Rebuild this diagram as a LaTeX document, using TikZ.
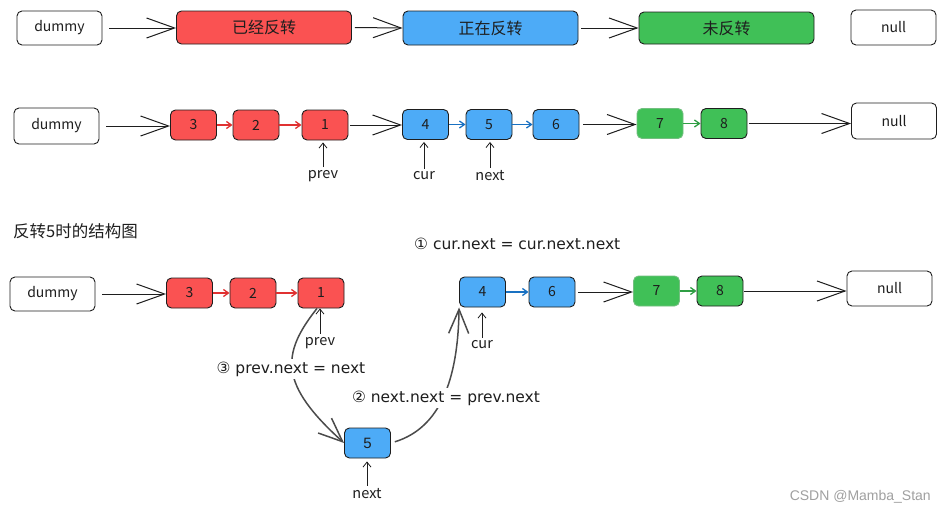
\documentclass[tikz,border=0pt]{standalone}
\usepackage{fontspec}
\setmainfont{Noto Sans CJK SC}
\newfontfamily\latinfont{Liberation Sans}
\newfontfamily\eqfont{DejaVu Sans}
\usetikzlibrary{arrows.meta}
\definecolor{ink}{HTML}{1E1E1E}
\definecolor{redf}{HTML}{FA5252}
\definecolor{bluef}{HTML}{4DABF7}
\definecolor{greenf}{HTML}{40C057}
\definecolor{reda}{HTML}{E03131}
\definecolor{bluea}{HTML}{1971C2}
\definecolor{greena}{HTML}{2F9E44}
\definecolor{wm}{HTML}{A0A0A0}
\begin{document}
\begin{tikzpicture}[x=1pt,y=-1pt,
  box/.style={draw=ink, line width=0.9pt, rounded corners=5pt, inner sep=0pt, text=ink,
    font=\fontsize{14}{16}\selectfont},
  wbox/.style={box, fill=white, minimum width=85pt},
  cbox/.style={box, minimum width=46pt, minimum height=30pt},
  rbox/.style={cbox, fill=redf},
  bbox/.style={cbox, fill=bluef},
  gbox/.style={cbox, fill=greenf},
  lgbox/.style={cbox, fill=greenf, draw=greenf!85!black!70},
  bigbox/.style={box, minimum width=175pt, font=\fontsize{16}{18}\selectfont},
  big/.style={draw=ink, line width=1pt, -{Straight Barb[length=28pt,width=20pt]}},
  small/.style={line width=1.3pt, -{Straight Barb[length=5pt,width=7pt]}},
  ptr/.style={draw=ink, line width=0.8pt, -{Straight Barb[length=5pt,width=8pt]}},
  lbl/.style={text=ink, inner sep=1pt, font=\fontsize{14.5}{16}\selectfont},
  eq/.style={text=ink, inner sep=3pt, font=\eqfont\fontsize{15.5}{17}\selectfont},
  curve/.style={draw=ink!80, line width=1.5pt, -{Straight Barb[length=24pt,width=20pt]}}
]
\fill[white] (0,0) rectangle (946,514);
\path[use as bounding box] (0,0) rectangle (946,514);

% ---------- row 1 ----------
\node[wbox, minimum height=34pt] (d1) at (59.5,28) {dummy};
\node[bigbox, fill=redf, minimum height=33pt] (rev) at (264,27.5) {已经反转};
\node[bigbox, fill=bluef, minimum height=34pt] (ing) at (490.5,28) {正在反转};
\node[bigbox, fill=greenf, minimum height=32pt] (un) at (726.5,28) {未反转};
\node[wbox, minimum height=35pt] (n1) at (893.5,27.5) {null};
\draw[big, shorten <=7pt] (d1.east) -- (d1.east -| rev.west);
\draw[big, shorten <=3pt] (rev.east) -- (ing.west);
\draw[big, shorten <=3pt] (ing.east) -- (un.west);

% ---------- row 2 ----------
\node[wbox, minimum height=36pt] (d2) at (56.5,126) {dummy};
\node[rbox] (a3) at (193.5,125) {3};
\node[rbox] (a2) at (256,125) {2};
\node[rbox] (a1) at (325,125) {1};
\node[bbox] (a4) at (425.5,124.5) {4};
\node[bbox] (a5) at (489,124.5) {5};
\node[bbox] (a6) at (556,124.5) {6};
\node[lgbox] (a7) at (660,123.5) {7};
\node[gbox] (a8) at (724,123.5) {8};
\node[wbox, minimum height=36pt] (n2) at (894,121) {null};
\draw[big, shorten <=7pt] (d2.east) -- (d2.east -| a3.west);
\draw[small, reda] (a3.east) -- (a2.west);
\draw[small, reda] (a2.east) -- (a1.west);
\draw[big, shorten <=2pt] (a1.east) -- (a1.east -| a4.west);
\draw[small, bluea] (a4.east) -- (a5.west);
\draw[small, bluea] (a5.east) -- (a6.west);
\draw[big, shorten <=4pt] (a6.east) -- (a6.east -| a7.west);
\draw[small, greena] (a7.east) -- (a8.west);
\draw[big, shorten <=2pt] (a8.east) -- (a8.east -| n2.west);

\node[lbl] (pA) at (323,176) {prev};
\node[lbl] (cA) at (424,176) {cur};
\node[lbl] (nA) at (490,176) {next};
\draw[ptr, shorten <=2pt, shorten >=2pt] (pA.north) -- (pA.north |- a1.south);
\draw[ptr, shorten <=2pt, shorten >=2pt] (cA.north) -- (cA.north |- a4.south);
\draw[ptr, shorten <=2pt, shorten >=2pt] (nA.north) -- (nA.north |- a5.south);

% ---------- row 3 ----------
\node[text=ink, anchor=west, inner sep=0pt, font=\fontsize{16.5}{19}\selectfont] (title) at (13,231) {反转5时的结构图};
\node[eq, anchor=west] (e1) at (411,244) {① cur.next = cur.next.next};

\node[wbox, minimum height=34pt] (d3) at (52.5,294) {dummy};
\node[rbox] (b3) at (189.5,293) {3};
\node[rbox] (b2) at (253,293) {2};
\node[rbox] (b1) at (321,293) {1};
\node[bbox] (b4) at (482.5,292) {4};
\node[bbox] (b6) at (552,292) {6};
\node[lgbox] (b7) at (656.5,291) {7};
\node[gbox] (b8) at (720,291) {8};
\node[wbox, minimum height=35pt] (n3) at (889.5,288.5) {null};
\node[bbox, font=\latinfont\fontsize{15}{17}\selectfont] (b5) at (367.5,443) {5};

\draw[big, shorten <=7pt] (d3.east) -- (d3.east -| b3.west);
\draw[small, reda] (b3.east) -- (b2.west);
\draw[small, reda] (b2.east) -- (b1.west);
\draw[small, bluea] (b4.east) -- (b6.west);
\draw[big, shorten <=3pt] (b6.east) -- (b6.east -| b7.west);
\draw[small, greena] (b7.east) -- (b8.west);
\draw[big, shorten <=1pt] (b8.east) -- (b8.east -| n3.west);

\node[lbl] (pB) at (320,343) {prev};
\node[lbl] (cB) at (482,345) {cur};
\node[lbl] (nB) at (367,494) {next};
\draw[ptr, shorten <=2pt] (pB.north) -- (pB.north |- b1.south);
\draw[ptr, shorten <=2pt, shorten >=5pt] (cB.north) -- (cB.north |- b4.south);
\draw[ptr, shorten <=2pt, shorten >=3pt] (nB.north) -- (nB.north |- b5.south);

% curved pointer changes
\draw[curve] ([xshift=-4pt]b1.south) .. controls (280,355) and (280,385) .. (b5.west);
\draw[curve, shorten <=4pt] (b5.east) .. controls (440,428) and (458,380) .. (b4.south west);
\node[eq, fill=white] (e3) at (291,369) {③ prev.next = next};
\node[eq, fill=white] (e2) at (446,398) {② next.next = prev.next};

% watermark
\node[text=wm, anchor=east, inner sep=0pt, font=\latinfont\fontsize{14}{16}\selectfont] (wmk) at (931,497) {CSDN @Mamba\_Stan};
\end{tikzpicture}
\end{document}
